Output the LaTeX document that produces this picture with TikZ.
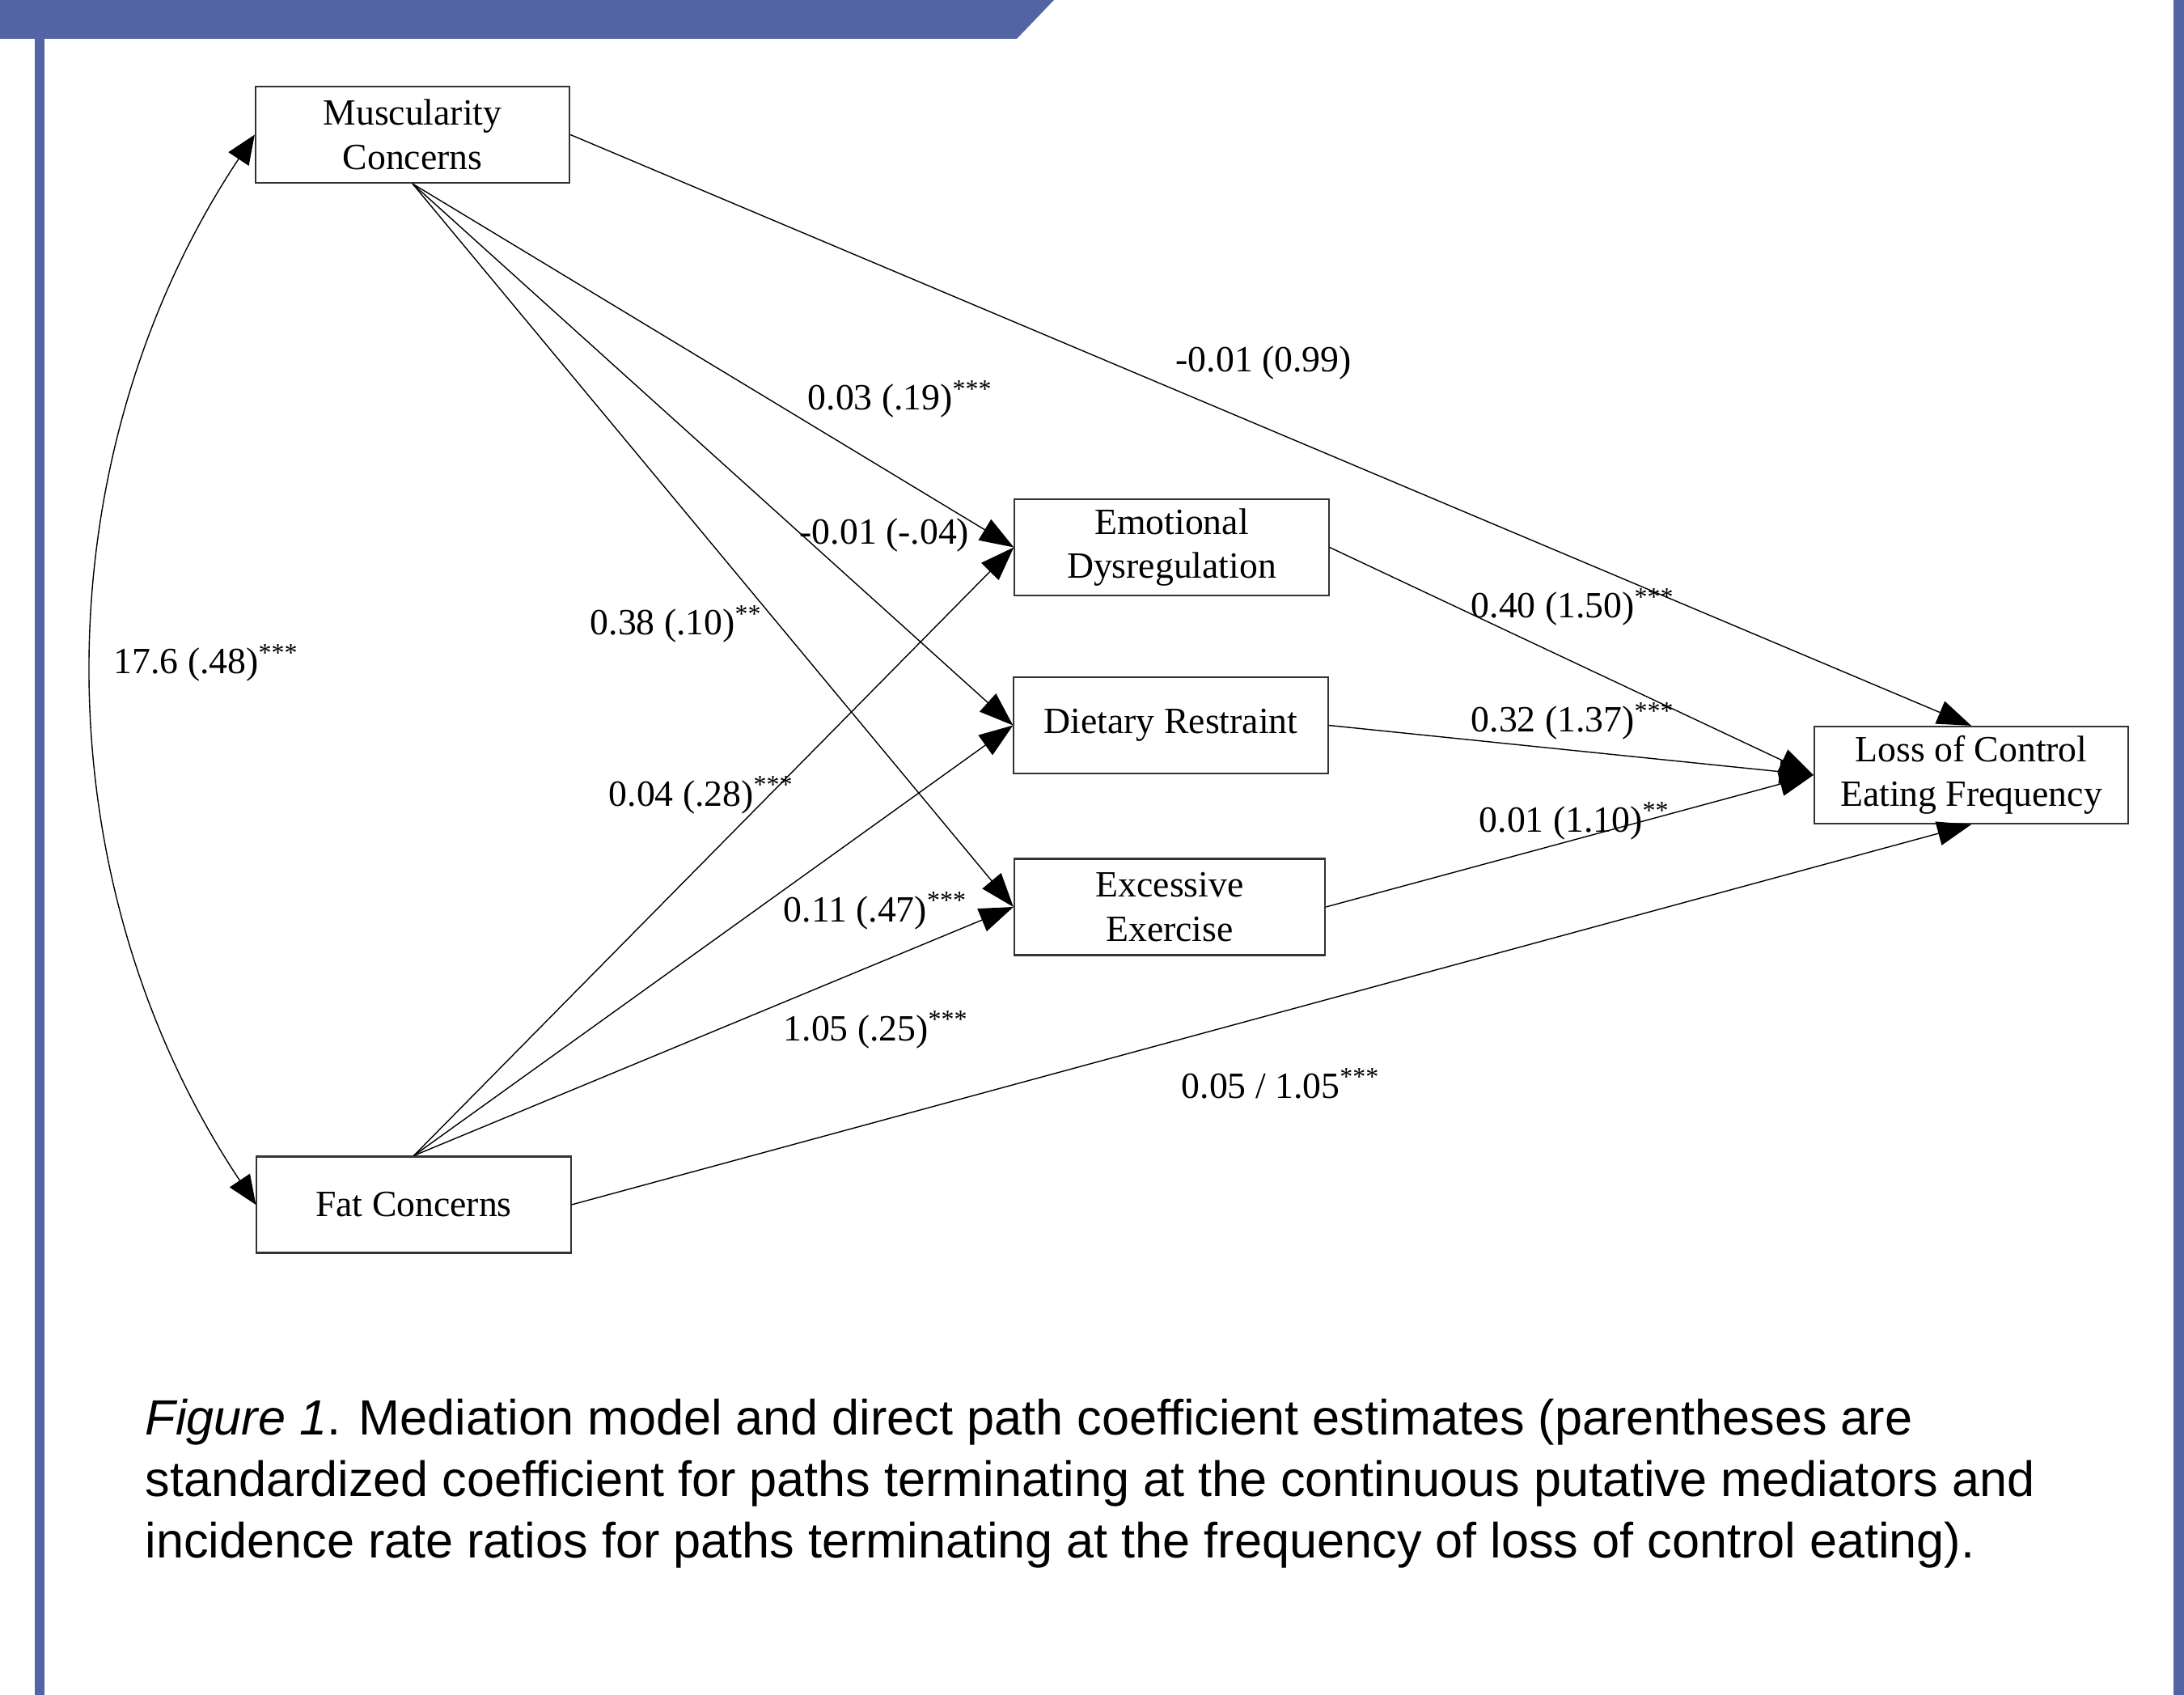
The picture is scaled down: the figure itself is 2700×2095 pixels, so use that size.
\documentclass[tikz,border=0pt]{standalone}
\usepackage{fontspec}
\setmainfont{Liberation Serif}
\newfontfamily\capfont{Liberation Sans}
\usetikzlibrary{arrows.meta}
\definecolor{framebl}{RGB}{83,100,165}
\begin{document}
\begin{tikzpicture}[x=0.01cm,y=-0.01cm,
  box/.style={draw=black!80, line width=0.6pt, minimum width=3.88cm, minimum height=1.19cm,
    inner sep=0pt, align=center, font=\fontsize{13}{15.5}\selectfont},
  lbl/.style={anchor=base west, inner sep=0pt, font=\fontsize{13}{15.5}\selectfont},
  arr/.style={line width=0.4pt, -{Triangle[length=4.2mm,width=3.0mm]}},
  dbl/.style={line width=0.4pt, {Triangle[length=3.6mm,width=3.0mm]}-{Triangle[length=3.6mm,width=3.0mm]}}
]
\useasboundingbox (0,0) rectangle (2700,2095);
% frame
\fill[framebl] (0,0) -- (1303,0) -- (1257,48) -- (0,48) -- cycle;
\fill[framebl] (43,0) rectangle (55,2095);
\fill[framebl] (2687,0) rectangle (2700,2095);

% boxes
\node[box] (mc) at (510,166.5) {Muscularity\\Concerns};
\node[box] (fc) at (511.5,1489) {Fat Concerns};
\node[box] (emo) at (1448.5,676.5) {Emotional\\Dysregulation};
\node[box] (diet) at (1447.5,896.5) {Dietary Restraint};
\node[box, minimum width=3.84cm] (exc) at (1446,1121) {Excessive\\Exercise};
\node[box, minimum height=1.20cm] (loss) at (2437,958) {Loss of Control\\Eating Frequency};

% connectors
\draw[arr] (mc.south) -- (emo.west);
\draw[arr] (mc.south) -- (diet.west);
\draw[arr] (mc.south) -- (exc.west);
\draw[arr] (mc.east) -- (loss.north);
\draw[arr] (fc.north) -- (emo.west);
\draw[arr] (fc.north) -- (diet.west);
\draw[arr] (fc.north) -- (exc.west);
\draw[arr] (fc.east) -- (loss.south);
\draw[arr] (emo.east) -- (loss.west);
\draw[arr] (diet.east) -- (loss.west);
\draw[arr] (exc.east) -- (loss.west);
\draw[dbl] (mc.west) .. controls (48,569) and (48,1086) .. (fc.west);

% labels
\node[lbl] (l1) at (1453,460) {-0.01 (0.99)};
\node[lbl] (l2) at (998,507) {0.03 (.19)\textsuperscript{***}};
\node[lbl] (l3) at (988,673) {-0.01 (-.04)};
\node[lbl] (l4) at (729,785) {0.38 (.10)\textsuperscript{**}};
\node[lbl] (l5) at (752,996) {0.04 (.28)\textsuperscript{***}};
\node[lbl] (l6) at (968,1139) {0.11 (.47)\textsuperscript{***}};
\node[lbl] (l7) at (968,1286) {1.05 (.25)\textsuperscript{***}};
\node[lbl] (l8) at (1460,1357) {0.05 / 1.05\textsuperscript{***}};
\node[lbl] (l9) at (1818,764) {0.40 (1.50)\textsuperscript{***}};
\node[lbl] (l10) at (1818,905) {0.32 (1.37)\textsuperscript{***}};
\node[lbl] (l11) at (1828,1028) {0.01 (1.10)\textsuperscript{**}};
\node[lbl] (l12) at (140,833) {17.6 (.48)\textsuperscript{***}};

% caption
\node[anchor=base west, inner sep=0pt, align=left, font=\capfont\fontsize{17.4}{21.6}\selectfont] (cap) at (179,1925)
  {\textit{Figure 1}. Mediation model and direct path coefficient estimates (parentheses are\\
   standardized coefficient for paths terminating at the continuous putative mediators and\\
   incidence rate ratios for paths terminating at the frequency of loss of control eating).};
\end{tikzpicture}
\end{document}
